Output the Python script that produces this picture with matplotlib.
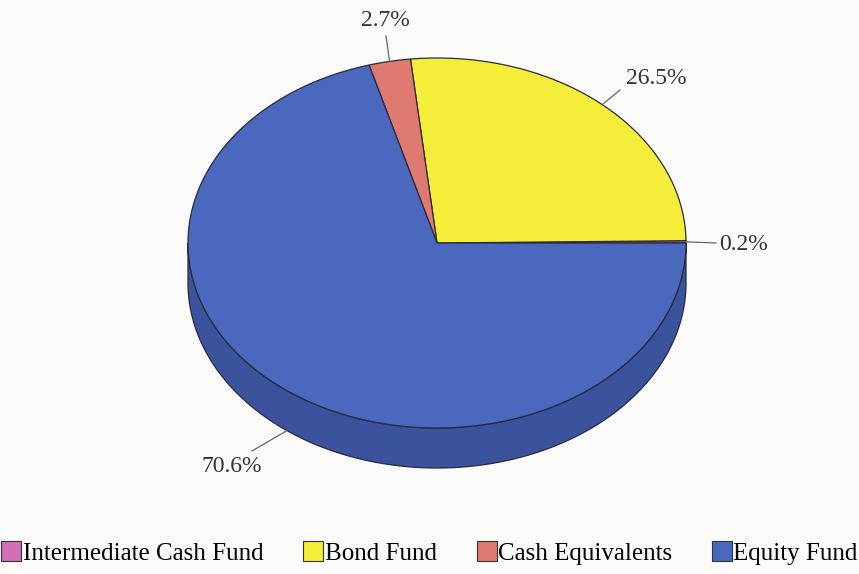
import numpy as np
import matplotlib.pyplot as plt
from matplotlib.patches import Polygon, Patch

# Fund allocation (percent of total)
funds = ['Intermediate Cash Fund', 'Bond Fund', 'Cash Equivalents', 'Equity Fund']
shares = [0.2, 26.5, 2.7, 70.6]

top_colors = ['#d36fb4', '#f4ee3a', '#df7a70', '#4a68bd']
side_colors = ['#a8548d', '#c2bc2c', '#b35e57', '#3a539c']

plt.rcParams['font.family'] = ['Liberation Serif', 'DejaVu Serif']

fig = plt.figure(figsize=(8.59, 5.74), dpi=100)
ax = fig.add_axes([0, 0, 1, 1])
ax.set_xlim(0, 859)
ax.set_ylim(574, 0)
ax.axis('off')
fig.patch.set_facecolor('#fafaf8')

# ellipse geometry of the tilted pie (pixel units)
cx, cy = 437, 243
rx, ry = 249, 185
depth = 40
edge = '#2a2a3a'


def pt(t, dy=0):
    r = np.radians(t)
    return cx + rx * np.cos(r), cy - ry * np.sin(r) + dy


angles = np.concatenate([[0], np.cumsum(shares) / 100 * 360])

# side wall for the front half of each slice
for i in range(len(shares)):
    a0, a1 = max(angles[i], 180), min(angles[i + 1], 360)
    if a1 <= a0:
        continue
    ts = np.linspace(a0, a1, 200)
    upper = [pt(t) for t in ts]
    lower = [pt(t, depth) for t in ts[::-1]]
    ax.add_patch(Polygon(upper + lower, closed=True, fc=side_colors[i],
                         ec=edge, lw=0.9, zorder=1))

# top face wedges
for i in range(len(shares)):
    ts = np.linspace(angles[i], angles[i + 1], 200)
    verts = [(cx, cy)] + [pt(t) for t in ts]
    ax.add_patch(Polygon(verts, closed=True, fc=top_colors[i],
                         ec=edge, lw=0.9, zorder=2))

# percentage labels with leader lines
label_xy = [(744, 245), (656, 79), (385, 21), (232, 467)]
leader_end = [(716, 243), (620, 90), (386, 36), (252, 451)]
for i, p in enumerate(shares):
    mid = (angles[i] + angles[i + 1]) / 2
    x0, y0 = pt(mid, depth if 180 < mid < 360 else 0)
    ax.plot([x0, leader_end[i][0]], [y0, leader_end[i][1]],
            color='#666666', lw=0.9, zorder=3)
    ax.text(label_xy[i][0], label_xy[i][1], f'{p:.1f}%', ha='center',
            va='center', fontsize=17, color='#333333', zorder=4)

handles = [Patch(fc=c, ec='#333333', lw=0.8) for c in top_colors]
ax.legend(handles, funds, loc='center', bbox_to_anchor=(0.5, 1 - 553 / 574),
          bbox_transform=ax.transAxes, ncol=4, frameon=False, fontsize=18,
          handlelength=0.8, handleheight=0.8, handletextpad=0.05,
          columnspacing=1.6, borderaxespad=0)

fig.savefig('out.png', dpi=100, facecolor=fig.get_facecolor())
